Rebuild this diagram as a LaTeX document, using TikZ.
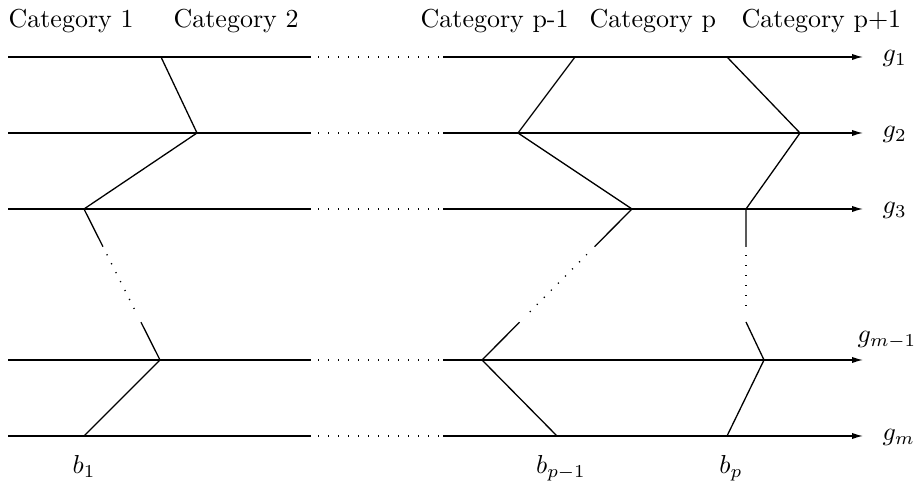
\documentclass[tikz,border=0pt]{standalone}
\usetikzlibrary{calc,arrows.meta}
\begin{document}
\begin{tikzpicture}[x=0.385pt,y=-0.385pt,line width=0.5pt,
  dotline/.style={dash pattern=on 0.45pt off 3.4pt},
  axis/.style={-{Latex[length=4.2pt,width=2.4pt]}},
  lab/.style={inner sep=0pt,anchor=base west},
  blab/.style={inner sep=0pt,anchor=base}]
\useasboundingbox (0,0) rectangle (917,485);
% category headings
\node[lab] (c1) at (8,28) {Category 1};
\node[lab] (c2) at (173,28) {Category 2};
\node[lab] (cp1) at (420,28) {Category p-1};
\node[lab] (cp) at (589,28) {Category p};
\node[lab] (cpp) at (741,28) {Category p+1};
% horizontal rows
\foreach \r/\y in {ga/57,gb/133,gc/209,gd/360,ge/436}{
  \coordinate (\r A) at (8,\y);
  \coordinate (\r B) at (311,\y);
  \coordinate (\r C) at (318,\y);
  \coordinate (\r D) at (440,\y);
  \coordinate (\r E) at (443,\y);
  \coordinate (\r F) at (863,\y);
  \draw (\r A) -- (\r B);
  \draw[dotline] (\r C) -- (\r D);
  \draw[axis] (\r E) -- (\r F);
}
% row labels
\node[lab] (l1) at (882,62) {$g_1$};
\node[lab] (l2) at (882,138) {$g_2$};
\node[lab] (l3) at (882,214) {$g_3$};
\node[lab] (l4) at (857,343) {$g_{m-1}$};
\node[lab] (l5) at (882,441) {$g_m$};
% category 2 boundary
\coordinate (a1) at (161,57);
\coordinate (a2) at (197,133);
\coordinate (a3) at (84,209);
\coordinate (a4) at (160,360);
\coordinate (a5) at (84,436);
\draw (a1) -- (a2) -- (a3) -- ($(a3)!0.25!(a4)$);
\draw[dotline] ($(a3)!0.3!(a4)$) -- ($(a3)!0.71!(a4)$);
\draw ($(a3)!0.75!(a4)$) -- (a4) -- (a5);
% category p boundary
\coordinate (b1) at (575,57);
\coordinate (b2) at (518,133);
\coordinate (b3) at (632,209);
\coordinate (b4) at (482,360);
\coordinate (b5) at (557,436);
\draw (b1) -- (b2) -- (b3) -- ($(b3)!0.25!(b4)$);
\draw[dotline] ($(b3)!0.3!(b4)$) -- ($(b3)!0.71!(b4)$);
\draw ($(b3)!0.75!(b4)$) -- (b4) -- (b5);
% category p+1 boundary
\coordinate (d1) at (727,57);
\coordinate (d2) at (800,133);
\coordinate (d3) at (746,209);
\coordinate (d3a) at (746,247);
\coordinate (d3b) at (746,255);
\coordinate (d3c) at (746,315);
\coordinate (d3d) at (746,322);
\coordinate (d4) at (764,360);
\coordinate (d5) at (727,436);
\draw (d1) -- (d2) -- (d3) -- (d3a);
\draw[dotline] (d3b) -- (d3c);
\draw (d3d) -- (d4) -- (d5);
% boundary labels
\node[blab] (bl1) at (84,474) {$b_1$};
\node[blab] (bl2) at (561,474) {$b_{p-1}$};
\node[blab] (bl3) at (731,474) {$b_p$};
\end{tikzpicture}
\end{document}
